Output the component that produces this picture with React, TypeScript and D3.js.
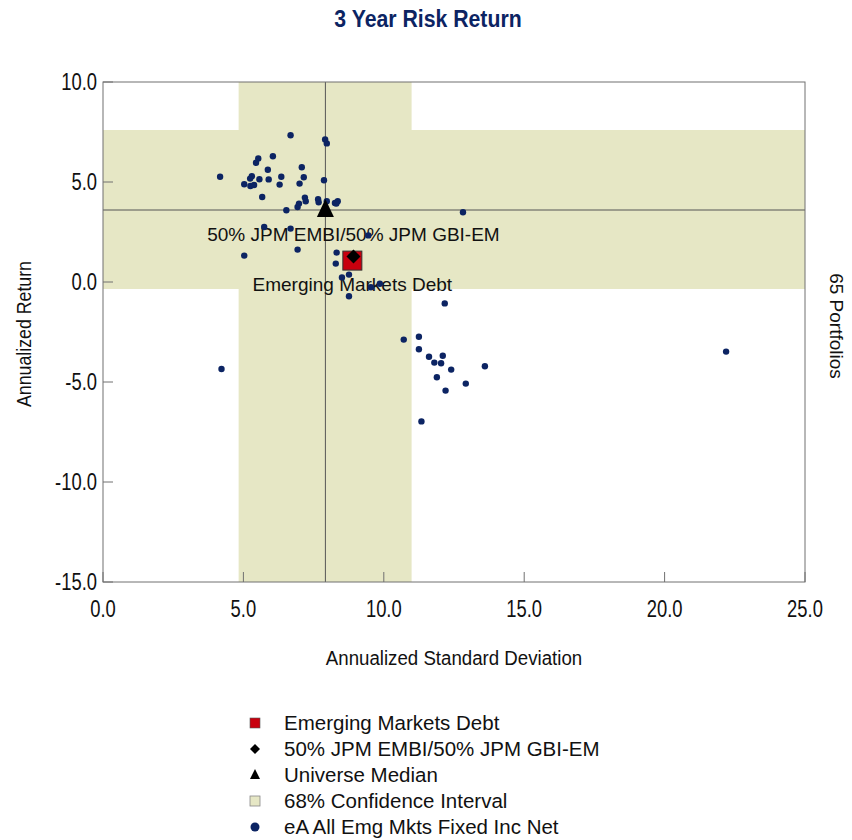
import React from 'react';
import * as d3 from 'd3';

const chartTitle = '3 Year Risk Return';
const xAxisTitle = 'Annualized Standard Deviation';
const yAxisTitle = 'Annualized Return';
const rightNote = '65 Portfolios';
const xTicks = [0, 5, 10, 15, 20, 25];
const yTicks = [10, 5, 0, -5, -10, -15];

// Universe points: [std dev, return]
const universeStdDev = [
  4.17, 6.68, 7.91, 7.97, 6.05, 5.53, 5.45, 7.08, 5.87, 5.30, 6.35, 7.15, 5.24, 5.57, 5.90, 7.87,
  5.03, 5.25, 5.38, 6.29, 7.00, 5.67, 7.19, 7.22, 7.66, 7.68, 7.97, 8.26, 8.36, 8.31, 6.98, 6.93,
  6.53, 6.68, 5.74, 9.45, 5.03, 6.93, 8.32, 8.29, 8.76, 8.51, 9.54, 9.86, 8.76, 12.17, 10.71, 11.25,
  11.25, 11.61, 12.10, 11.80, 12.04, 12.40, 13.60, 11.89, 12.92, 12.20, 11.34, 4.22, 22.19, 12.82,
];
const universeReturn = [
  5.26, 7.34, 7.13, 6.93, 6.29, 6.18, 5.96, 5.74, 5.61, 5.29, 5.26, 5.24, 5.17, 5.14, 5.13, 5.09,
  4.89, 4.80, 4.85, 4.87, 4.92, 4.25, 4.22, 4.04, 4.14, 3.99, 4.04, 3.95, 4.04, 3.92, 3.92, 3.75,
  3.59, 2.67, 2.75, 2.33, 1.32, 1.62, 1.47, 0.92, 0.37, 0.23, -0.26, -0.09, -0.71, -1.07, -2.88, -2.74,
  -3.36, -3.74, -3.69, -4.03, -4.06, -4.38, -4.21, -4.76, -5.08, -5.43, -6.97, -4.35, -3.48, 3.49,
];

const ciStdDev = [4.83, 10.99];
const ciReturn = [-0.35, 7.6];
const medianStdDev = 7.92;
const medianReturn = 3.6;
const fundName = 'Emerging Markets Debt';
const fundPoint = [8.88, 1.07];
const benchName = '50% JPM EMBI/50% JPM GBI-EM';
const benchPoint = [8.92, 1.28];

const legendLabels = [
  'Emerging Markets Debt',
  '50% JPM EMBI/50% JPM GBI-EM',
  'Universe Median',
  '68% Confidence Interval',
  'eA All Emg Mkts Fixed Inc Net',
];

const W = 852;
const H = 840;
const plot = { left: 103, right: 805, top: 82, bottom: 582 };

const NAVY = '#0c2463';
const CI_FILL = '#e6e7c5';
const FRAME = '#707070';
const SANS = "'Liberation Sans', Arial, sans-serif";

export default function App() {
  const x = d3.scaleLinear().domain([0, 25]).range([plot.left, plot.right]);
  const y = d3.scaleLinear().domain([-15, 10]).range([plot.bottom, plot.top]);
  const fmt = (v: number) => d3.format('.1f')(v).replace('\u2212', '-');
  const pts = universeStdDev.map((s, i) => [s, universeReturn[i]]);

  const tri = (cx: number, cy: number, w: number, up: number, down: number) =>
    `M${cx},${cy - up}L${cx + w / 2},${cy + down}L${cx - w / 2},${cy + down}Z`;
  const diamond = (cx: number, cy: number, r: number) =>
    `M${cx},${cy - r}L${cx + r},${cy}L${cx},${cy + r}L${cx - r},${cy}Z`;

  const mx = x(medianStdDev);
  const my = y(medianReturn);
  const fx = x(fundPoint[0]);
  const fy = y(fundPoint[1]);
  const bx = x(benchPoint[0]);
  const by = y(benchPoint[1]);

  const legX = 255;
  const legY0 = 723;
  const legDy = 26;
  const TICK_SX = 0.8;

  return (
    <svg width={W} height={H} style={{ position: 'absolute', left: 0, top: 0, background: '#fff' }}>
      <rect x={0} y={0} width={W} height={H} fill="#fff" />
      <g transform={`translate(428,27) scale(0.885,1)`}>
        <text x={0} y={0} textAnchor="middle" fontFamily={SANS} fontWeight="bold" fontSize={24} fill={NAVY}>
          {chartTitle}
        </text>
      </g>

      {/* plot background */}
      <rect x={plot.left} y={plot.top} width={plot.right - plot.left} height={plot.bottom - plot.top} fill="#fff" />
      {/* confidence interval bands */}
      <rect x={x(ciStdDev[0])} y={plot.top} width={x(ciStdDev[1]) - x(ciStdDev[0])} height={plot.bottom - plot.top} fill={CI_FILL} />
      <rect x={plot.left} y={y(ciReturn[1])} width={plot.right - plot.left} height={y(ciReturn[0]) - y(ciReturn[1])} fill={CI_FILL} />

      {/* median lines */}
      <line x1={mx} x2={mx} y1={plot.top} y2={plot.bottom} stroke="#555" strokeWidth={1} />
      <line x1={plot.left} x2={plot.right} y1={my} y2={my} stroke="#555" strokeWidth={1} />

      {/* frame */}
      <rect x={plot.left} y={plot.top} width={plot.right - plot.left} height={plot.bottom - plot.top} fill="none" stroke={FRAME} strokeWidth={1} />

      {/* ticks */}
      {xTicks.map((t) => (
        <g key={'xt' + t}>
          <line x1={x(t)} x2={x(t)} y1={plot.bottom} y2={plot.bottom - 10} stroke={FRAME} />
          <g transform={`translate(${x(t)},617) scale(${TICK_SX},1)`}>
            <text x={0} y={0} textAnchor="middle" fontFamily={SANS} fontSize={23} fill="#111">
              {fmt(t)}
            </text>
          </g>
        </g>
      ))}
      {yTicks.map((t) => (
        <g key={'yt' + t}>
          <line x1={plot.left} x2={plot.left + 10} y1={y(t)} y2={y(t)} stroke={FRAME} />
          <g transform={`translate(97,${y(t)}) scale(${TICK_SX},1)`}>
            <text x={0} y={0} dy="0.36em" textAnchor="end" fontFamily={SANS} fontSize={23} fill="#111">
              {fmt(t)}
            </text>
          </g>
        </g>
      ))}

      {/* axis titles */}
      <g transform={`translate(454,665) scale(0.89,1)`}>
        <text x={0} y={0} textAnchor="middle" fontFamily={SANS} fontSize={21} fill="#111">
          {xAxisTitle}
        </text>
      </g>
      <g transform={`translate(31,334) rotate(-90) scale(0.845,1)`}>
        <text x={0} y={0} textAnchor="middle" fontFamily={SANS} fontSize={21} fill="#111">
          {yAxisTitle}
        </text>
      </g>
      <text transform={`translate(830,326) rotate(90)`} textAnchor="middle" fontFamily={SANS} fontSize={19} fill="#111">
        {rightNote}
      </text>

      {/* labels */}
      <text x={bx} y={by - 15} textAnchor="middle" fontFamily={SANS} fontSize={19} fill="#111">
        {benchName}
      </text>
      <text x={fx} y={fy + 30} textAnchor="middle" fontFamily={SANS} fontSize={19} fill="#111">
        {fundName}
      </text>

      {/* universe points */}
      {pts.map((p, i) => (
        <circle key={'p' + i} cx={x(p[0])} cy={y(p[1])} r={3.2} fill={NAVY} />
      ))}

      {/* special markers */}
      <rect x={fx - 9.5} y={fy - 9.5} width={19} height={19} fill="#c8000e" stroke="#333" strokeWidth={1} />
      <path d={diamond(bx, by, 7)} fill="#000" />
      <path d={tri(mx, my, 17, 11, 7)} fill="#000" />

      {/* legend */}
      <g>
        <rect x={legX - 5} y={legY0 - 5} width={10} height={10} fill="#c8000e" stroke="#555" strokeWidth={0.6} />
        <path d={diamond(legX, legY0 + legDy, 5)} fill="#000" />
        <path d={tri(legX, legY0 + legDy * 2, 10, 6, 4)} fill="#000" />
        <rect x={legX - 5} y={legY0 + legDy * 3 - 5} width={10} height={10} fill={CI_FILL} stroke="#888" strokeWidth={0.8} />
        <circle cx={legX} cy={legY0 + legDy * 4} r={4.5} fill={NAVY} />
        {legendLabels.map((l, i) => (
          <text key={'lg' + i} x={284} y={legY0 + legDy * i} dy="0.36em" fontFamily={SANS} fontSize={20.5} fill="#111">
            {l}
          </text>
        ))}
      </g>
    </svg>
  );
}
